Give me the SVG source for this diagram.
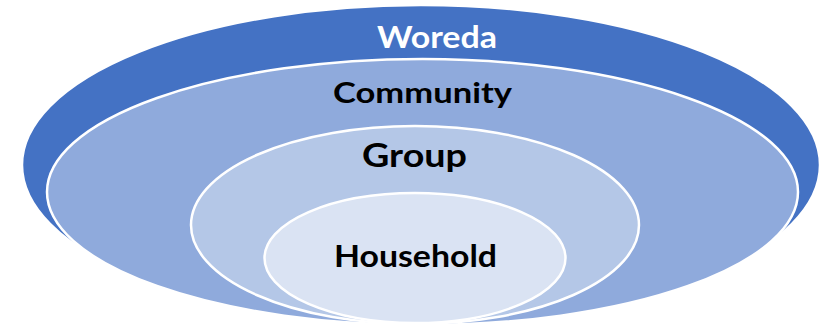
<svg xmlns="http://www.w3.org/2000/svg" width="835" height="328" viewBox="0 0 835 328">
<style>
.ring{stroke:#FFFFFF;stroke-width:2.5}
.lbl{font-family:Lato,"Open Sans","Liberation Sans",sans-serif;font-weight:bold;text-anchor:middle}
</style>
<rect width="835" height="328" fill="#FFFFFF"/>
<g id="woreda">
<ellipse class="ring" cx="421" cy="165" rx="399" ry="160" fill="#4472C4"/>
<text class="lbl" x="437" y="48" font-size="31" fill="#FFFFFF" textLength="120" lengthAdjust="spacingAndGlyphs">Woreda</text>
</g>
<g id="community">
<ellipse class="ring" cx="422.5" cy="192" rx="375.5" ry="133" fill="#8FAADC"/>
<text class="lbl" x="422.5" y="103" font-size="28" fill="#000000" textLength="179" lengthAdjust="spacingAndGlyphs">Community</text>
</g>
<g id="group">
<ellipse class="ring" cx="415" cy="225" rx="224" ry="99" fill="#B4C7E7"/>
<text class="lbl" x="414.5" y="167" font-size="33" fill="#000000" textLength="105" lengthAdjust="spacingAndGlyphs">Group</text>
</g>
<g id="household">
<ellipse class="ring" cx="415" cy="258" rx="150.5" ry="65" fill="#DAE3F3"/>
<text class="lbl" x="415.5" y="267" font-size="30" fill="#000000" textLength="163" lengthAdjust="spacingAndGlyphs">Household</text>
</g>
<g id="connectors"/>
</svg>
